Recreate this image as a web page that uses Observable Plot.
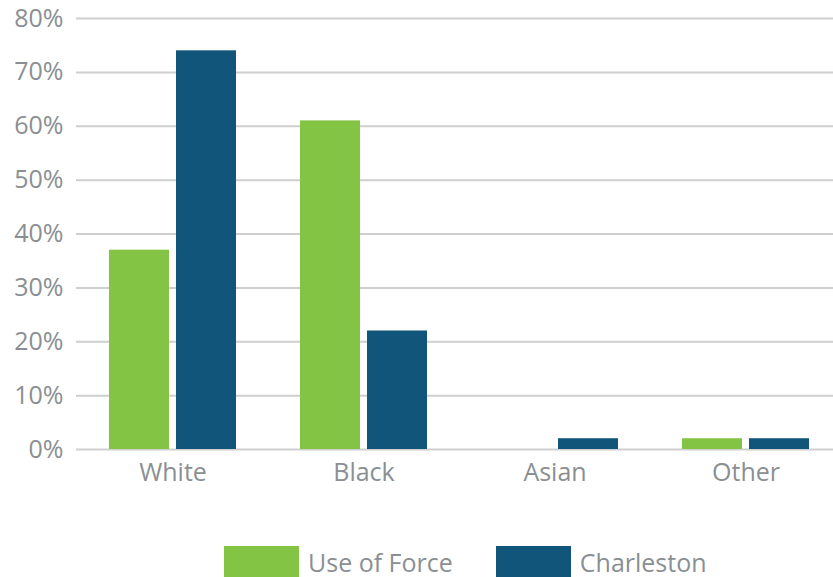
<!DOCTYPE html>
<html>
<head>
<meta charset="utf-8">
<script src="https://cdn.jsdelivr.net/npm/d3@7"></script>
<script src="https://cdn.jsdelivr.net/npm/@observablehq/plot@0.6"></script>
<style>
  html, body { margin: 0; padding: 0; background: #fff; }
  #chart { width: 833px; height: 577px; position: relative; overflow: hidden; font-family: "Open Sans", sans-serif; }
  #legend { display: flex; justify-content: flex-start; align-items: center; position: absolute; left: 224px; top: 546px; }
  .item { display: flex; align-items: center; margin-right: 43px; }
  .sw { width: 75px; height: 31px; margin-right: 9px; }
  .lab { font-size: 25px; line-height: 26px; color: #8a8f93; }
</style>
</head>
<body>
<div id="chart"></div>
<script>
const categories = ["White", "Black", "Asian", "Other"];
const series = ["Use of Force", "Charleston"];
const useOfForce = [37, 61, 0, 2];
const charleston = [74, 22, 2, 2];
const yTicks = [0, 10, 20, 30, 40, 50, 60, 70, 80];
const colors = ["#84c444", "#12557a"];

const data = [];
categories.forEach((c, i) => {
  data.push({category: c, series: series[0], value: useOfForce[i]});
  data.push({category: c, series: series[1], value: charleston[i]});
});

const plot = Plot.plot({
  width: 833,
  height: 530,
  marginLeft: 76,
  marginRight: -10,
  marginTop: 18,
  marginBottom: 81,
  style: {fontFamily: "'Open Sans', sans-serif", fontSize: "25px", color: "#8a8f93", background: "#fff"},
  x: {domain: categories, paddingInner: 1/3, paddingOuter: 1/6, label: null, tickSize: 0, tickPadding: 14},
  y: {domain: [0, 80], ticks: yTicks, tickFormat: d => d + "%", label: null, tickSize: 0, tickPadding: 13},
  color: {domain: series, range: colors},
  marks: [
    Plot.ruleY(yTicks, {stroke: "#cfcfcf", strokeWidth: 2}),
    Plot.barY(data.filter(d => d.series === series[0]), {x: "category", y: "value", fill: "series", insetRight: 67}),
    Plot.barY(data.filter(d => d.series === series[1]), {x: "category", y: "value", fill: "series", insetLeft: 67})
  ]
});
document.getElementById("chart").appendChild(plot);

const legend = d3.select("#chart").append("div").attr("id", "legend");
series.forEach((s, i) => {
  const it = legend.append("div").attr("class", "item");
  it.append("div").attr("class", "sw").style("background", colors[i]);
  it.append("div").attr("class", "lab").text(s);
});
</script>
</body>
</html>
